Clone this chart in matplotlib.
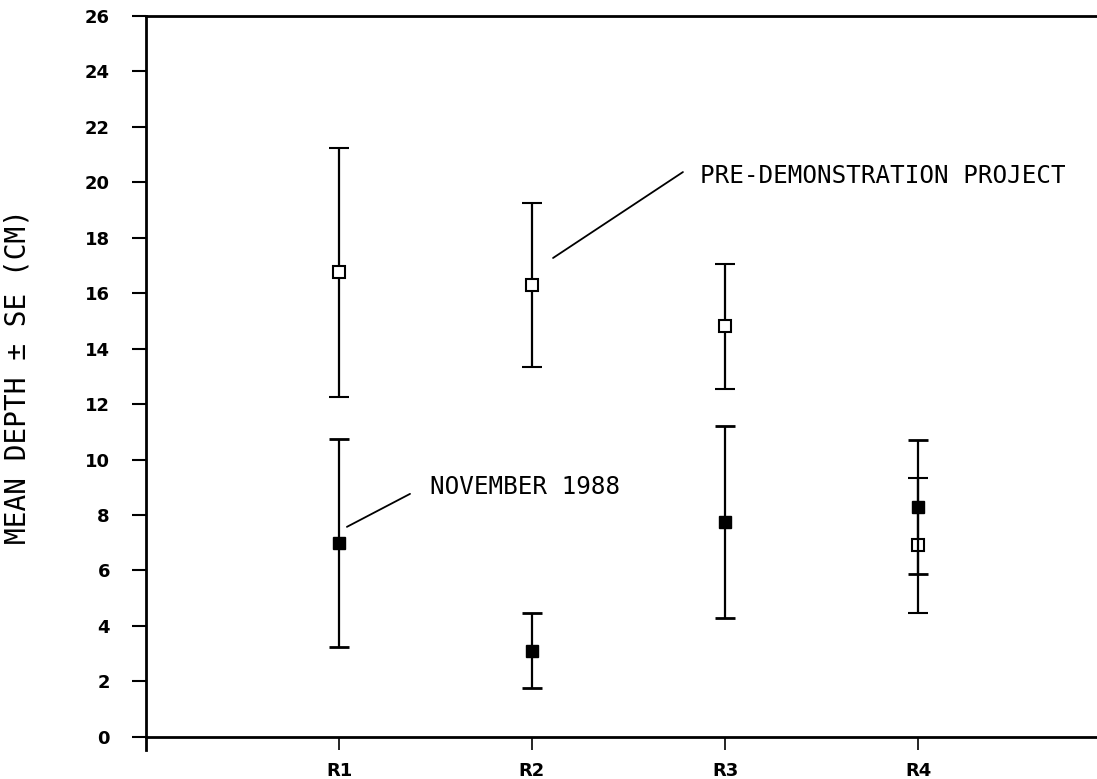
import numpy as np
import matplotlib.pyplot as plt

# sites and mean depths (cm) with standard errors
sitios = ["R1", "R2", "R3", "R4"]
x_sitio = [1, 2, 3, 4]

pre_media = [16.75, 16.3, 14.8, 6.9]
pre_se = [4.5, 2.95, 2.25, 2.45]

nov_media = [7.0, 3.1, 7.75, 8.3]
nov_se = [3.75, 1.35, 3.45, 2.42]

y_ticks = np.arange(0, 27, 2)

fig = plt.figure(figsize=(10.97, 7.79), dpi=100)
ax = fig.add_axes([146 / 1097, 29 / 779, 1 - 146 / 1097, (750 - 16) / 779])

ax.errorbar(x_sitio, pre_media, yerr=pre_se, fmt='s', color='black',
            mfc='white', mec='black', mew=1.5, ms=8, elinewidth=1.6,
            capsize=7, capthick=2, zorder=3)
ax.errorbar(x_sitio, nov_media, yerr=nov_se, fmt='s', color='black',
            mfc='black', mec='black', ms=8, elinewidth=1.6,
            capsize=7, capthick=2, zorder=4)

ax.set_xlim(0, (1097 - 146) / 193)
ax.set_ylim(-0.48, 26)
ax.spines['bottom'].set_position(('data', 0))
ax.spines['right'].set_visible(False)
for s in ['left', 'bottom', 'top']:
    ax.spines[s].set_linewidth(2)

ax.set_yticks(y_ticks)
ax.set_yticklabels([str(v) for v in y_ticks], fontsize=13, fontweight='bold')
ax.set_xticks(x_sitio)
ax.set_xticklabels(sitios, fontsize=13, fontweight='bold')
ax.tick_params(axis='y', length=10, width=1.5, pad=16)
ax.tick_params(axis='x', length=9, width=1.2, pad=9)

# leader lines from the labels to the points
linea = dict(arrowstyle='-', lw=1.3, color='black', shrinkA=0, shrinkB=0)
ax.annotate("", xy=(2.109, 17.27), xytext=(2.782, 20.37), arrowprops=linea)
ax.annotate("", xy=(1.041, 7.57), xytext=(1.368, 8.76), arrowprops=linea)

mono = dict(family='DejaVu Sans Mono', fontsize=17.5, color='black')
ax.text(2.87, 20.23, "PRE-DEMONSTRATION PROJECT", va='center', ha='left', **mono)
ax.text(1.47, 9.02, "NOVEMBER 1988", va='center', ha='left', **mono)

fig.text(18 / 1097, 1 - 377 / 779, "MEAN DEPTH \u00b1 SE (CM)", rotation=90,
         va='center', ha='center', family='DejaVu Sans Mono', fontsize=20)

fig.savefig("out.png", dpi=100)
